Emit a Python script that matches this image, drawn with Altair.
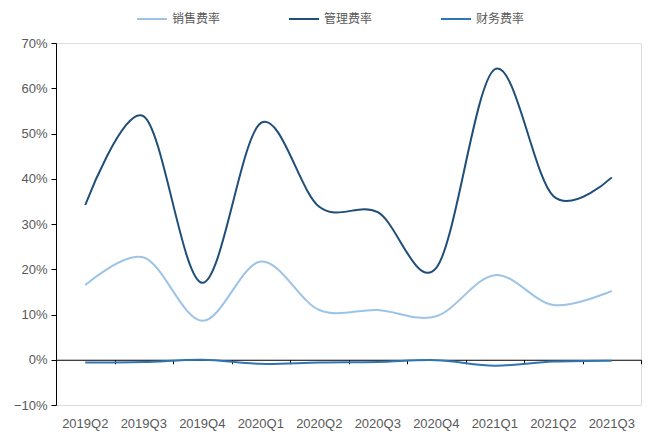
import altair as alt
import pandas as pd

quarters = ["2019Q2", "2019Q3", "2019Q4", "2020Q1", "2020Q2", "2020Q3",
            "2020Q4", "2021Q1", "2021Q2", "2021Q3"]
sales_rate = [16.5, 22.6, 8.6, 21.7, 11.0, 11.0, 9.6, 18.7, 12.1, 15.2]
mgmt_rate = [34.2, 53.8, 17.0, 52.3, 33.8, 32.6, 20.3, 64.2, 36.2, 40.3]
fin_rate = [-0.6, -0.5, 0.0, -0.9, -0.6, -0.5, -0.1, -1.3, -0.4, -0.2]

series_names = ["销售费率", "管理费率", "财务费率"]
series_colors = ["#9DC3E6", "#1F4E79", "#2E75B6"]

rows = []
for name, vals in zip(series_names, [sales_rate, mgmt_rate, fin_rate]):
    for q, v in zip(quarters, vals):
        rows.append({"quarter": q, "series": name, "value": v / 100})
df = pd.DataFrame(rows)

W, H = 585, 362
label_font = "Liberation Sans"
grey = "#595959"

y_enc = alt.Y("value:Q",
              scale=alt.Scale(domain=[-0.1, 0.7], nice=False, zero=False),
              axis=alt.Axis(format=".0%", values=[-0.1, 0, 0.1, 0.2, 0.3, 0.4, 0.5, 0.6, 0.7],
                            grid=False, domainColor="#000000", tickColor="#000000",
                            tickSize=5, labelColor=grey, labelFont=label_font,
                            labelFontSize=13, labelPadding=4, title=None))

x_scale = alt.Scale(domain=quarters, paddingInner=0, paddingOuter=0)

lines = alt.Chart(df).mark_line(interpolate="cardinal", strokeWidth=2).encode(
    x=alt.X("quarter:N", sort=quarters, scale=x_scale,
            axis=alt.Axis(orient="bottom", domain=False, ticks=False, labelAngle=0,
                          labelColor=grey, labelFont=label_font, labelFontSize=13,
                          labelPadding=12, grid=False, title=None)),
    y=y_enc,
    color=alt.Color("series:N", sort=series_names,
                    scale=alt.Scale(domain=series_names, range=series_colors),
                    legend=alt.Legend(orient="none", legendX=80, legendY=-40,
                                      direction="horizontal", title=None,
                                      symbolType="stroke", symbolSize=900,
                                      symbolStrokeWidth=2, labelFont="Noto Sans CJK SC",
                                      labelFontSize=12, labelColor=grey,
                                      labelOffset=4, columnPadding=64)),
)

zero_axis = alt.Chart(df[df["series"] == series_names[0]]).mark_point(opacity=0).encode(
    x=alt.X("quarter:N", sort=quarters, scale=x_scale,
            axis=alt.Axis(orient="bottom", offset=-H / 8, labels=False, domain=True,
                          domainColor="#000000", ticks=True, tickColor="#000000",
                          tickSize=4, tickBand="extent", grid=False, title=None)),
    y=alt.datum(0),
)

chart = alt.layer(zero_axis, lines).resolve_axis(x="independent").properties(
    width=W, height=H,
    autosize=alt.AutoSizeParams(type="none"),
    padding={"left": 56, "top": 43, "right": 13, "bottom": 29},
).configure_view(stroke=None).configure(background="#ffffff")

chart.save("out.html", embed_options={"renderer": "svg", "actions": False})
